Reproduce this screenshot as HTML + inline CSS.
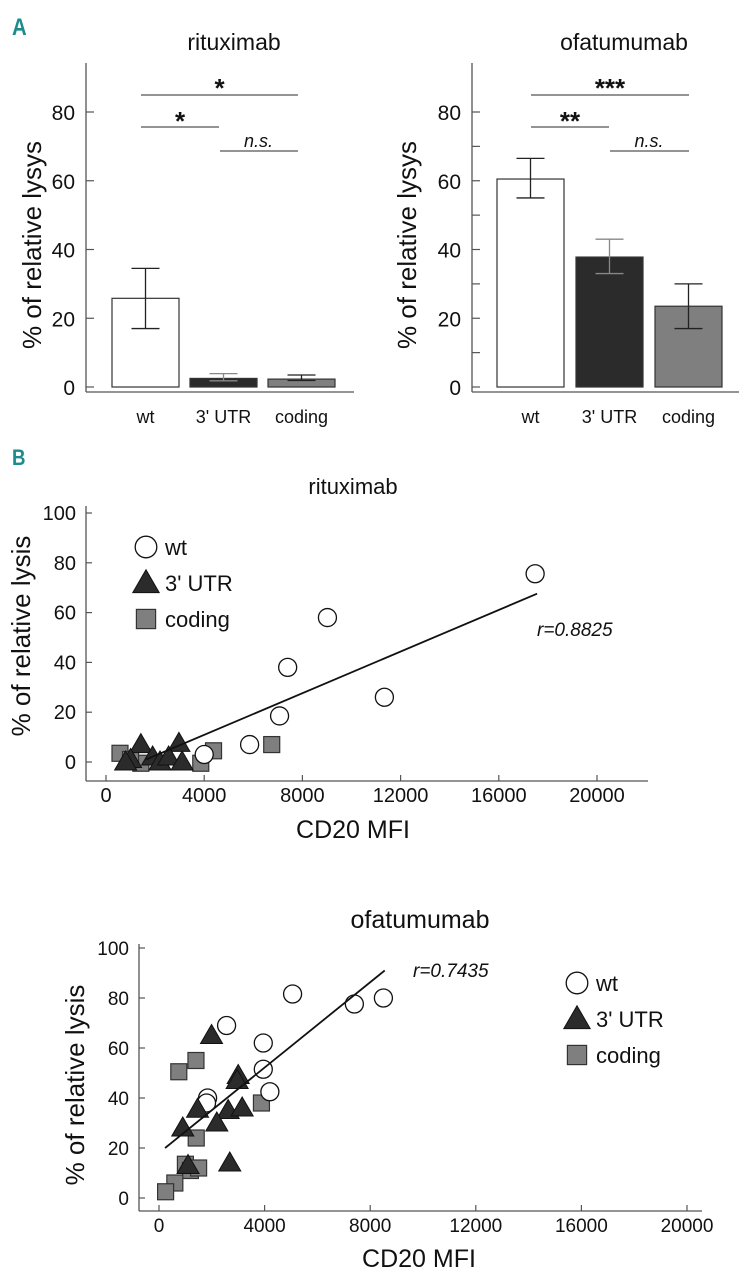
<!DOCTYPE html>
<html><head><meta charset="utf-8">
<style>
html,body{margin:0;padding:0;background:#fff;}
svg{display:block;font-family:"Liberation Sans",Arial,sans-serif;}
</style></head>
<body>
<svg id="fig" width="748" height="1280" viewBox="0 0 748 1280">
<g id="root"></g>
</svg>
<script>
// ---------- data ----------
const barCategories = ["wt", "3' UTR", "coding"];
const rituxMeans = [25.8, 2.5, 2.3];
const rituxLow = [17, 1.8, 1.9];
const rituxHigh = [34.5, 3.9, 3.5];
const ofaMeans = [60.5, 37.8, 23.5];
const ofaLow = [55, 33, 17];
const ofaHigh = [66.5, 43, 30];
const barYTicks = [0, 20, 40, 60, 80];
const barFills = ["#ffffff", "#2b2b2b", "#7f7f7f"];

const scatterXTicks = [0, 4000, 8000, 12000, 16000, 20000];
const scatterYTicks = [0, 20, 40, 60, 80, 100];

const r_wtX = [17480, 9020, 7400, 7070, 11340, 5850, 4000];
const r_wtY = [75.6, 58, 38, 18.5, 26, 7, 3];
const r_utrX = [1420, 2970, 1000, 1900, 2200, 2550, 3100, 800];
const r_utrY = [7, 7.5, 1, 2, 0, 2, 0, 0];
const r_codX = [6750, 4380, 3860, 570, 1420, 1000];
const r_codY = [7, 4.5, -0.5, 3.5, -0.5, 1];
const r_lineX = [1630, 17560];
const r_lineY = [1, 67.6];

const o_wtX = [2560, 5060, 7400, 8500, 3950, 3950, 4200, 1840, 1800];
const o_wtY = [69, 81.6, 77.6, 80, 62, 51.5, 42.5, 40, 38];
const o_utrX = [1990, 3000, 2960, 1460, 2620, 3150, 2190, 900, 1100, 2680];
const o_utrY = [65, 49, 47, 35.5, 35, 36, 30, 28, 13, 14];
const o_codX = [750, 1400, 1410, 1000, 1190, 1500, 600, 250, 3880];
const o_codY = [50.5, 55, 24, 13.5, 11, 12, 6, 2.5, 38];
const o_lineX = [230, 8550];
const o_lineY = [20, 91];

// ---------- helpers ----------
const NS = "http://www.w3.org/2000/svg";
const root = document.getElementById('root');
function mk(tag, attrs, parent, text){
  const e = document.createElementNS(NS, tag);
  for (const k in attrs) e.setAttribute(k, attrs[k]);
  if (text !== undefined) e.textContent = text;
  (parent||root).appendChild(e);
  return e;
}
function group(name){
  const g = mk('g', {});
  
  
  return g;
}

// ---------- panel letters ----------
let t = mk('text', {x:12, y:35, 'font-size':24, 'font-weight':'bold', fill:'#1a8c8c', transform:'scale(0.85,1)', 'transform-origin':'12 35'}, root, 'A');


t = mk('text', {x:12, y:465, 'font-size':22, 'font-weight':'bold', fill:'#1a8c8c', transform:'scale(0.85,1)', 'transform-origin':'12 465'}, root, 'B');



// ---------- bar charts ----------
function barChart(opt){
  const g = group(opt.name);
  const y0 = 387, y80 = 112;
  const ys = v => y0 + (y80 - y0) * v / 80;
  const ax = opt.axisX;
  let e = mk('text', {x:opt.titleX, y:50, 'font-size':23, 'text-anchor':'middle', fill:'#111'}, g, opt.title);
  
  
  e = mk('line', {x1:ax, y1:63, x2:ax, y2:392, stroke:'#555', 'stroke-width':1.3}, g);
  
  
  e = mk('line', {x1:ax, y1:392, x2:opt.axisEnd, y2:392, stroke:'#555', 'stroke-width':1.3}, g);
  
  
  barYTicks.forEach(v => {
    const tk = mk('line', {x1:ax, y1:ys(v), x2:ax+8, y2:ys(v), stroke:'#555', 'stroke-width':1.2}, g);
    
    
    const tl = mk('text', {x:ax-11, y:ys(v)+8, 'font-size':21, 'text-anchor':'end', fill:'#111'}, g, String(v));
    
    
    if (opt.minor && v < 80) {
      const mt = mk('line', {x1:ax, y1:ys(v+10), x2:ax+8, y2:ys(v+10), stroke:'#555', 'stroke-width':1.2}, g);
      
      
    }
  });
  const cy = 245, cx = opt.ytX;
  e = mk('text', {x:cx, y:cy, 'font-size':26, 'text-anchor':'middle', fill:'#111', transform:`rotate(-90 ${cx} ${cy})`}, g, '% of relative lysys');
  
  
  opt.means.forEach((m, i) => {
    const x = opt.barX[i], w = 67;
    const b = mk('rect', {x:x, y:ys(m), width:w, height:ys(0)-ys(m), fill:barFills[i], stroke:'#333', 'stroke-width':1.2}, g);
    
    
    const cxm = x + w/2;
    const eb = mk('path', {d:`M${cxm-14},${ys(opt.high[i])}H${cxm+14}M${cxm},${ys(opt.high[i])}V${ys(opt.low[i])}M${cxm-14},${ys(opt.low[i])}H${cxm+14}`, stroke: i==1?'#888':'#222', 'stroke-width':1.3, fill:'none'}, g);
    
    
    const cl = mk('text', {x:cxm, y:423, 'font-size':18, 'text-anchor':'middle', fill:'#111'}, g, barCategories[i]);
    
    
  });
  const s = opt.sig;
  e = mk('line', {x1:s[0], y1:95, x2:s[2], y2:95, stroke:'#555', 'stroke-width':1.2}, g);
  
  
  e = mk('line', {x1:s[0], y1:127, x2:s[1], y2:127, stroke:'#555', 'stroke-width':1.2}, g);
  
  
  e = mk('line', {x1:s[1]+1, y1:151, x2:s[2], y2:151, stroke:'#555', 'stroke-width':1.2}, g);
  
  
  e = mk('text', {x:(s[0]+s[2])/2, y:97, 'font-size':26, 'font-weight':'bold', 'text-anchor':'middle', fill:'#111'}, g, opt.star1);
  
  
  e = mk('text', {x:(s[0]+s[1])/2, y:130, 'font-size':26, 'font-weight':'bold', 'text-anchor':'middle', fill:'#111'}, g, opt.star2);
  
  
  e = mk('text', {x:(s[1]+s[2])/2, y:147, 'font-size':18, 'font-style':'italic', 'text-anchor':'middle', fill:'#111'}, g, 'n.s.');
  
  
}
barChart({name:'rituximab-bar-chart', title:'rituximab', titleX:234, axisX:86, axisEnd:354, ytX:41,
  means:rituxMeans, low:rituxLow, high:rituxHigh, barX:[112,190,268], sig:[141,219,298], star1:'*', star2:'*', minor:false});
barChart({name:'ofatumumab-bar-chart', title:'ofatumumab', titleX:624, axisX:472, axisEnd:739, ytX:416,
  means:ofaMeans, low:ofaLow, high:ofaHigh, barX:[497,576,655], sig:[531,609,689], star1:'***', star2:'**', minor:true});

// ---------- scatter plots ----------
function marker(g, type, px, py, s){
  let e;
  if (type === 'wt') e = mk('circle', {cx:px, cy:py, r:9*s, fill:'#fff', stroke:'#111', 'stroke-width':1.3}, g);
  else if (type === 'utr') e = mk('path', {d:`M${px},${py-11*s}L${px+11*s},${py+8*s}L${px-11*s},${py+8*s}Z`, fill:'#2b2b2b', stroke:'#111', 'stroke-width':1}, g);
  else e = mk('rect', {x:px-8*s, y:py-8*s, width:16*s, height:16*s, fill:'#7f7f7f', stroke:'#333', 'stroke-width':1.2}, g);
  return e;
}
function scatter(o){
  const g = group(o.name);
  const xs = v => o.x0 + (o.x20k - o.x0) * v / 20000;
  const ys = v => o.y0 + (o.y100 - o.y0) * v / 100;
  let e = mk('text', {x:o.titleX, y:o.titleY, 'font-size':o.titleFs, 'text-anchor':'middle', fill:'#111'}, g, o.title);
  
  
  e = mk('line', {x1:o.ax, y1:o.axTop, x2:o.ax, y2:o.axY, stroke:'#555', 'stroke-width':1.3}, g);
  
  
  e = mk('line', {x1:o.ax, y1:o.axY, x2:o.axEnd, y2:o.axY, stroke:'#555', 'stroke-width':1.3}, g);
  
  
  scatterYTicks.forEach(v => {
    const tk = mk('line', {x1:o.ax, y1:ys(v), x2:o.ax+6, y2:ys(v), stroke:'#555', 'stroke-width':1.2}, g);
    
    
    const tl = mk('text', {x:o.ax-10, y:ys(v)+7, 'font-size':o.tickFs, 'text-anchor':'end', fill:'#111'}, g, String(v));
    
    
  });
  scatterXTicks.forEach(v => {
    const tk = mk('line', {x1:xs(v), y1:o.axY, x2:xs(v), y2:o.axY-6, stroke:'#555', 'stroke-width':1.2}, g);
    
    
    const tl = mk('text', {x:xs(v), y:o.axY+21, 'font-size':o.tickFs, 'text-anchor':'middle', fill:'#111'}, g, String(v));
    
    
  });
  e = mk('text', {x:o.xtX, y:o.xtY, 'font-size':25, 'text-anchor':'middle', fill:'#111'}, g, 'CD20 MFI');
  
  
  e = mk('text', {x:o.ytX, y:o.ytY, 'font-size':26, 'text-anchor':'middle', fill:'#111', transform:`rotate(-90 ${o.ytX} ${o.ytY})`}, g, '% of relative lysis');
  
  
  o.codX.forEach((v,i) => { const m = marker(g,'cod',xs(v),ys(o.codY[i]),1);
    
     });
  o.wtX.forEach((v,i) => { const m = marker(g,'wt',xs(v),ys(o.wtY[i]),1);
    
     });
  o.utrX.forEach((v,i) => { const m = marker(g,'utr',xs(v),ys(o.utrY[i]),1);
    
     });
  e = mk('line', {x1:xs(o.lineX[0]), y1:ys(o.lineY[0]), x2:xs(o.lineX[1]), y2:ys(o.lineY[1]), stroke:'#111', 'stroke-width':1.8}, g);
  
  
  e = mk('text', {x:o.rX, y:o.rY, 'font-size':19, 'font-style':'italic', fill:'#111'}, g, o.rText);
  
  
  const labels = ['wt', "3' UTR", 'coding'], types = ['wt','utr','cod'];
  types.forEach((tp,i) => {
    const ly = o.legY + i*36;
    const m = marker(g, tp, o.legX, ly, 1.2);
    
    
    const lt = mk('text', {x:o.legX+19, y:ly+8, 'font-size':22, fill:'#111'}, g, labels[i]);
    
    
  });
}
scatter({name:'rituximab-scatter', title:'rituximab', titleX:353, titleY:494, titleFs:22, tickFs:20,
  x0:106, x20k:597, y0:762, y100:513, ax:86, axTop:506, axY:781, axEnd:648,
  xtX:353, xtY:838, ytX:30, ytY:636,
  wtX:r_wtX, wtY:r_wtY, utrX:r_utrX, utrY:r_utrY, codX:r_codX, codY:r_codY,
  lineX:r_lineX, lineY:r_lineY, rX:537, rY:636, rText:'r=0.8825', legX:146, legY:547});
scatter({name:'ofatumumab-scatter', title:'ofatumumab', titleX:420, titleY:928, titleFs:25, tickFs:19,
  x0:159, x20k:687, y0:1198, y100:948, ax:139, axTop:944, axY:1211, axEnd:702,
  xtX:419, xtY:1267, ytX:84, ytY:1085,
  wtX:o_wtX, wtY:o_wtY, utrX:o_utrX, utrY:o_utrY, codX:o_codX, codY:o_codY,
  lineX:o_lineX, lineY:o_lineY, rX:413, rY:977, rText:'r=0.7435', legX:577, legY:983});
</script>
</body></html>
